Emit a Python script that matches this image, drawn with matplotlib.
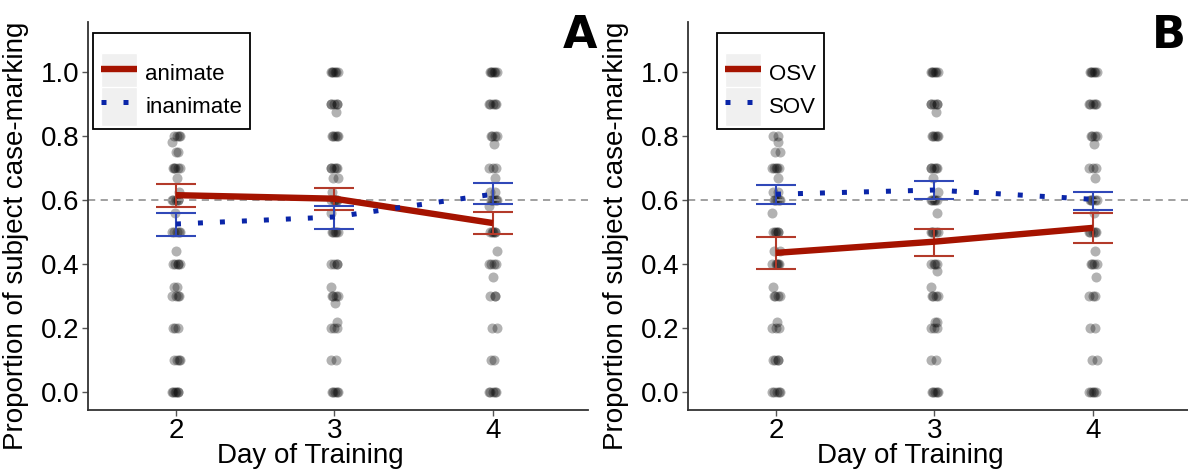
import numpy as np
import matplotlib.pyplot as plt
from matplotlib.legend_handler import HandlerLine2D
from matplotlib.patches import Rectangle

plt.rcParams["font.family"] = ["Liberation Sans", "DejaVu Sans"]

# x positions (training days)
days = [2, 3, 4]

# individual proportions: (value, how many overlapping dots) per day
points_a = {
    2: [(1.0, 5), (0.95, 2), (0.9, 5), (0.875, 1), (0.8, 4), (0.78, 1), (0.75, 2),
        (0.7, 5), (0.67, 1), (0.625, 1), (0.6, 5), (0.56, 1), (0.5, 5), (0.44, 1),
        (0.4, 5), (0.33, 2), (0.3, 4), (0.2, 3), (0.1, 4), (0.0, 6)],
    3: [(1.0, 6), (0.9, 5), (0.875, 1), (0.8, 5), (0.7, 5), (0.67, 2), (0.625, 1),
        (0.6, 5), (0.56, 1), (0.5, 5), (0.4, 4), (0.33, 1), (0.3, 4), (0.28, 1),
        (0.22, 1), (0.2, 3), (0.1, 2), (0.0, 5)],
    4: [(1.0, 6), (0.9, 5), (0.8, 4), (0.775, 1), (0.7, 3), (0.67, 1), (0.625, 2),
        (0.6, 5), (0.58, 1), (0.5, 5), (0.44, 1), (0.4, 4), (0.36, 1), (0.3, 3),
        (0.2, 2), (0.1, 2), (0.0, 5)],
}
points_b = {
    2: [(1.0, 5), (0.9, 4), (0.8, 2), (0.78, 1), (0.75, 2), (0.7, 5), (0.67, 1),
        (0.625, 2), (0.6, 5), (0.56, 1), (0.5, 5), (0.44, 2), (0.4, 5), (0.33, 1),
        (0.3, 4), (0.22, 1), (0.2, 3), (0.1, 4), (0.0, 5)],
    3: [(1.0, 6), (0.9, 5), (0.875, 1), (0.8, 5), (0.7, 5), (0.67, 1), (0.625, 1),
        (0.6, 5), (0.56, 1), (0.5, 5), (0.4, 4), (0.38, 1), (0.33, 1), (0.3, 4),
        (0.22, 2), (0.2, 3), (0.1, 2), (0.0, 5)],
    4: [(1.0, 6), (0.9, 5), (0.8, 4), (0.775, 1), (0.7, 3), (0.67, 1), (0.6, 5),
        (0.56, 1), (0.5, 5), (0.44, 1), (0.4, 4), (0.36, 1), (0.3, 3), (0.2, 2),
        (0.1, 2), (0.0, 5)],
}

# panel A: means and error bar limits
animate_mean = [0.615, 0.604, 0.528]
animate_lo = [0.579, 0.569, 0.494]
animate_hi = [0.650, 0.638, 0.562]
inanimate_mean = [0.525, 0.547, 0.618]
inanimate_lo = [0.488, 0.510, 0.587]
inanimate_hi = [0.558, 0.581, 0.653]

# panel B
osv_mean = [0.435, 0.470, 0.513]
osv_lo = [0.385, 0.425, 0.465]
osv_hi = [0.483, 0.510, 0.558]
sov_mean = [0.618, 0.631, 0.602]
sov_lo = [0.588, 0.602, 0.569]
sov_hi = [0.647, 0.660, 0.626]

red = "#a51300"
red_bar = "#b33a2a"
blue = "#0a25a8"
blue_bar = "#3048b8"

jitter = [-0.02, 0.012, -0.006, 0.024, -0.014, 0.006, 0.018, -0.024, 0.0, 0.014]


class KeyHandler(HandlerLine2D):
    # ggplot-like grey background behind legend keys
    def create_artists(self, legend, orig_handle, xdescent, ydescent,
                       width, height, fontsize, trans):
        arts = super().create_artists(legend, orig_handle, xdescent, ydescent,
                                      width, height, fontsize, trans)
        bg = Rectangle((-xdescent, -ydescent - 3), width, height + 6,
                       facecolor="#f0f0f0", edgecolor="white", lw=1.0,
                       transform=trans)
        return [bg] + list(arts)


def draw_panel(ax, points, m1, lo1, hi1, m2, lo2, hi2, labels, legend_x):
    for d in days:
        xs, ys = [], []
        k = 0
        for val, n in points[d]:
            for i in range(n):
                xs.append(d + jitter[k % len(jitter)])
                ys.append(val)
                k += 1
        ax.scatter(xs, ys, s=52, color="black", alpha=0.3, lw=0, zorder=1)

    ax.axhline(0.6, color="#999999", ls=(0, (4, 3)), lw=1.3, zorder=2)

    m1, lo1, hi1 = np.array(m1), np.array(lo1), np.array(hi1)
    m2, lo2, hi2 = np.array(m2), np.array(lo2), np.array(hi2)
    ax.errorbar(days, m1, yerr=[m1 - lo1, hi1 - m1], fmt="none", ecolor=red_bar,
                elinewidth=1.5, capsize=14.5, capthick=1.5, zorder=3)
    ax.errorbar(days, m2, yerr=[m2 - lo2, hi2 - m2], fmt="none", ecolor=blue_bar,
                elinewidth=1.5, capsize=14.5, capthick=1.5, zorder=3)
    ax.plot(days, m1, color=red, lw=4.6, solid_capstyle="butt", zorder=4,
            label=labels[0])
    ax.plot(days, m2, color=blue, lw=3.6, ls=(0, (1, 3.4)),
            dash_capstyle="butt", zorder=4, label=labels[1])

    ax.set_xlim(1.445, 4.6)
    ax.set_ylim(-0.055, 1.155)
    ax.set_xticks(days)
    ax.set_yticks([0.0, 0.2, 0.4, 0.6, 0.8, 1.0])
    ax.set_yticklabels(["0.0", "0.2", "0.4", "0.6", "0.8", "1.0"])
    ax.tick_params(labelsize=20, length=4, width=1, color="#555555", pad=2)
    for s in ["top", "right"]:
        ax.spines[s].set_visible(False)
    for s in ["left", "bottom"]:
        ax.spines[s].set_color("#333333")
        ax.spines[s].set_linewidth(1.3)

    ax.set_xlabel("Day of Training", fontsize=20)
    ax.set_ylabel("Proportion of subject case-marking", fontsize=20)
    ax.xaxis.set_label_coords(0.444, -0.085)
    ax.yaxis.set_label_coords(-0.118, 0.45)

    leg = ax.legend(loc="upper left", bbox_to_anchor=(legend_x, 0.972),
                    borderaxespad=0, fontsize=16, frameon=True, fancybox=False,
                    edgecolor="black", framealpha=1, handlelength=1.65,
                    handleheight=1.75, labelspacing=0.12, handletextpad=0.35,
                    borderpad=0.35, title=" ", title_fontsize=11,
                    handler_map={plt.Line2D: KeyHandler()})
    leg.get_frame().set_linewidth(1.3)
    leg.set_zorder(10)
    return leg


fig = plt.figure(figsize=(11.88, 4.74), dpi=100)
ax_a = fig.add_axes([88 / 1188, 64 / 474, 500 / 1188, 388 / 474])
ax_b = fig.add_axes([688 / 1188, 64 / 474, 500 / 1188, 388 / 474])

draw_panel(ax_a, points_a, animate_mean, animate_lo, animate_hi,
           inanimate_mean, inanimate_lo, inanimate_hi,
           ["animate", "inanimate"], 0.01)
draw_panel(ax_b, points_b, osv_mean, osv_lo, osv_hi,
           sov_mean, sov_lo, sov_hi,
           ["OSV", "SOV"], 0.058)

# panel letters
fig.text(597 / 1188, 1 - 14 / 474, "A", fontsize=32, fontweight="bold",
         family="DejaVu Sans", ha="right", va="top")
fig.text(1186 / 1188, 1 - 14 / 474, "B", fontsize=32, fontweight="bold",
         family="DejaVu Sans", ha="right", va="top")

fig.savefig("out.png", dpi=100)
